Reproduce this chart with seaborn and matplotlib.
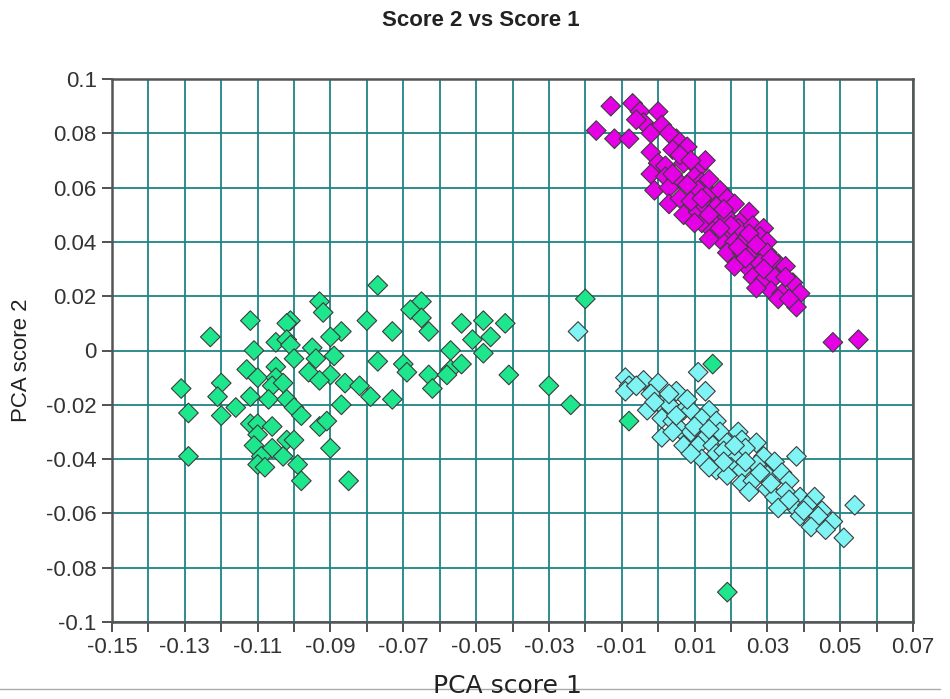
import matplotlib
matplotlib.use('Agg')
import matplotlib.pyplot as plt
import numpy as np
import pandas as pd
import seaborn as sns
from matplotlib.lines import Line2D

# PCA scores, one pair of lists per group
green_x = [-0.077, -0.093, -0.092, -0.112, -0.101, -0.102, -0.080, -0.073, -0.123, -0.087,
           -0.090, -0.105, -0.102, -0.101, -0.111, -0.095, -0.089, -0.094, -0.100, -0.077,
           -0.113, -0.096, -0.105, -0.110, -0.105, -0.090, -0.093, -0.086, -0.082, -0.120,
           -0.131, -0.106, -0.103, -0.121, -0.112, -0.107, -0.102, -0.079, -0.073, -0.116,
           -0.100, -0.087, -0.129, -0.120, -0.098, -0.112, -0.110, -0.106, -0.093, -0.091,
           -0.110, -0.102, -0.100, -0.090, -0.111, -0.106, -0.103, -0.129, -0.109, -0.110,
           -0.108, -0.099, -0.098, -0.085,
           -0.065, -0.068, -0.065, -0.063, -0.054, -0.048, -0.042, -0.046, -0.051, -0.057,
           -0.048, -0.020, -0.070, -0.069, -0.063, -0.057, -0.054, -0.058, -0.062, -0.041,
           -0.030, -0.024, 0.015, -0.008, 0.019]
green_y = [0.024, 0.018, 0.014, 0.011, 0.011, 0.010, 0.011, 0.007, 0.005, 0.007,
           0.005, 0.003, 0.004, 0.002, 0.000, 0.001, -0.002, -0.003, -0.003, -0.004,
           -0.007, -0.008, -0.006, -0.010, -0.010, -0.009, -0.011, -0.012, -0.013, -0.012,
           -0.014, -0.013, -0.012, -0.017, -0.017, -0.018, -0.018, -0.017, -0.018, -0.021,
           -0.021, -0.020, -0.023, -0.024, -0.024, -0.027, -0.027, -0.028, -0.028, -0.026,
           -0.031, -0.033, -0.033, -0.036, -0.035, -0.036, -0.039, -0.039, -0.039, -0.042,
           -0.043, -0.042, -0.048, -0.048,
           0.018, 0.015, 0.012, 0.007, 0.010, 0.011, 0.010, 0.005, 0.004, 0.000,
           -0.001, 0.019, -0.005, -0.008, -0.009, -0.007, -0.005, -0.009, -0.014, -0.009,
           -0.013, -0.020, -0.005, -0.026, -0.089]

magenta_x = [-0.013, -0.007, -0.005, 0.000, -0.004, -0.017, -0.012, -0.008, -0.002, 0.005,
             0.004, 0.008, -0.002, 0.000, 0.002, 0.007, 0.011, 0.013, -0.002, 0.002,
             0.005, 0.010, 0.012, -0.001, 0.003, 0.011, 0.014, 0.017, 0.019, 0.003,
             0.006, 0.007, 0.011, 0.013, 0.016, 0.021, 0.012, 0.016, 0.019, 0.023,
             0.025, 0.015, 0.019, 0.022, 0.026, 0.029, 0.017, 0.021, 0.024, 0.028,
             0.030, 0.019, 0.023, 0.026, 0.030, 0.023, 0.025, 0.028, 0.033, 0.035,
             0.026, 0.029, 0.032, 0.037, 0.031, 0.034, 0.039, 0.033, 0.038, 0.048, 0.055,
             0.001, 0.003, -0.006, 0.006, 0.009, 0.004, 0.008, 0.014, 0.009, 0.014,
             0.018, 0.010, 0.014, 0.020, 0.022, 0.025, 0.027, 0.021, 0.024, 0.031,
             0.027, 0.035, 0.036, 0.029, 0.017, 0.012]
magenta_y = [0.090, 0.091, 0.088, 0.088, 0.084, 0.081, 0.078, 0.078, 0.080, 0.078,
             0.074, 0.075, 0.073, 0.069, 0.068, 0.069, 0.067, 0.070, 0.065, 0.064,
             0.063, 0.064, 0.062, 0.059, 0.060, 0.059, 0.058, 0.059, 0.056, 0.054,
             0.056, 0.050, 0.051, 0.053, 0.053, 0.054, 0.047, 0.048, 0.049, 0.048,
             0.051, 0.044, 0.043, 0.045, 0.046, 0.045, 0.041, 0.040, 0.041, 0.042,
             0.040, 0.036, 0.036, 0.037, 0.036, 0.033, 0.030, 0.032, 0.032, 0.031,
             0.027, 0.026, 0.027, 0.025, 0.022, 0.021, 0.021, 0.019, 0.016, 0.003, 0.004,
             0.083, 0.080, 0.085, 0.072, 0.070, 0.065, 0.061, 0.063, 0.055, 0.050,
             0.052, 0.047, 0.041, 0.046, 0.038, 0.043, 0.039, 0.031, 0.034, 0.034,
             0.023, 0.027, 0.019, 0.030, 0.045, 0.056]

cyan_x = [-0.009, -0.008, -0.004, -0.009, 0.000, -0.002, 0.005, 0.011, 0.013, -0.003,
          0.001, 0.003, 0.007, 0.001, 0.004, 0.009, 0.014, 0.012, 0.016, 0.001,
          0.006, 0.009, 0.013, 0.017, 0.022, 0.007, 0.011, 0.015, 0.019, 0.023,
          0.027, 0.012, 0.016, 0.021, 0.024, 0.029, 0.016, 0.020, 0.023, 0.027,
          0.032, 0.038, 0.023, 0.026, 0.030, 0.034, 0.036, 0.030, 0.032, 0.035,
          0.039, 0.043, 0.037, 0.041, 0.045, 0.039, 0.044, 0.048, 0.051, 0.054, -0.022,
          -0.006, 0.003, 0.008, -0.001, 0.005, 0.010, 0.004, 0.014, 0.018, 0.009,
          0.014, 0.019, 0.024, 0.028, 0.025, 0.031, 0.033, 0.036, 0.040, 0.042,
          0.046, 0.018, 0.021]
cyan_y = [-0.010, -0.013, -0.011, -0.015, -0.012, -0.016, -0.015, -0.008, -0.015, -0.022,
          -0.020, -0.020, -0.022, -0.025, -0.026, -0.022, -0.022, -0.025, -0.026, -0.032,
          -0.029, -0.030, -0.032, -0.030, -0.030, -0.035, -0.035, -0.035, -0.034, -0.033,
          -0.034, -0.040, -0.038, -0.038, -0.036, -0.039, -0.044, -0.043, -0.044, -0.042,
          -0.041, -0.039, -0.049, -0.048, -0.046, -0.045, -0.048, -0.051, -0.054, -0.052,
          -0.054, -0.054, -0.057, -0.057, -0.059, -0.061, -0.061, -0.063, -0.069, -0.057, 0.007,
          -0.013, -0.016, -0.018, -0.019, -0.024, -0.028, -0.030, -0.029, -0.037, -0.038,
          -0.043, -0.046, -0.041, -0.045, -0.052, -0.049, -0.058, -0.055, -0.059, -0.065,
          -0.066, -0.041, -0.035]

df = pd.concat([
    pd.DataFrame({'score1': cyan_x, 'score2': cyan_y, 'group': 'cyan'}),
    pd.DataFrame({'score1': magenta_x, 'score2': magenta_y, 'group': 'magenta'}),
    pd.DataFrame({'score1': green_x, 'score2': green_y, 'group': 'green'}),
], ignore_index=True)

colors = {'cyan': '#80f4f4', 'magenta': '#e600e6', 'green': '#1ee68c'}

sns.set_style('white')
plt.rcParams['font.family'] = ['Liberation Sans', 'DejaVu Sans']
plt.rcParams['axes.unicode_minus'] = False

fig = plt.figure(figsize=(9.5, 6.99), dpi=100)
ax = fig.add_axes([112/950, 1 - 622/699, (913 - 112)/950, (622 - 79)/699])

sns.scatterplot(data=df, x='score1', y='score2', hue='group', palette=colors, marker='D',
                s=100, edgecolor='#3c3c3c', linewidth=0.8, legend=False, ax=ax, zorder=3)

ax.set_xlim(-0.15, 0.07)
ax.set_ylim(-0.1, 0.1)
xt = np.round(np.arange(-0.15, 0.0701, 0.02), 2)
ax.set_xticks(xt)
ax.set_xticklabels([f'{v:g}' for v in xt])
ax.set_xticks(np.round(np.arange(-0.14, 0.061, 0.02), 2), minor=True)
yt = np.round(np.arange(-0.1, 0.1001, 0.02), 2)
ax.set_yticks(yt)
ax.set_yticklabels([f'{v:g}' for v in yt])

ax.set_axisbelow(True)
ax.grid(True, axis='x', which='both', color='#1f8585', lw=1.3)
ax.grid(True, axis='y', which='major', color='#1f8585', lw=1.3)

for sp in ax.spines.values():
    sp.set_color('#555555')
    sp.set_linewidth(1.8)
ax.tick_params(axis='both', which='both', direction='out', length=7, width=1.2,
               color='#333333', labelsize=16, labelcolor='#333333', pad=4,
               bottom=True, left=True)

ax.set_xlabel('')
ax.set_ylabel('')

fig.text(481/950, 1 - 21/699, 'Score 2 vs Score 1', ha='center', va='center',
         fontsize=16, fontweight='bold', color='#222222')
fig.text(22/950, 1 - 360/699, 'PCA score 2', ha='center', va='center', rotation=90,
         fontsize=16, color='#222222')
fig.add_artist(Line2D([0, 940/950], [1 - 689/699, 1 - 689/699], color='#aaaaaa', lw=1))
fig.text(507/950, 1 - 686/699, 'PCA score 1', ha='center', va='center',
         fontsize=18, family='DejaVu Sans', color='#222222')

fig.savefig('out.png', dpi=100)
